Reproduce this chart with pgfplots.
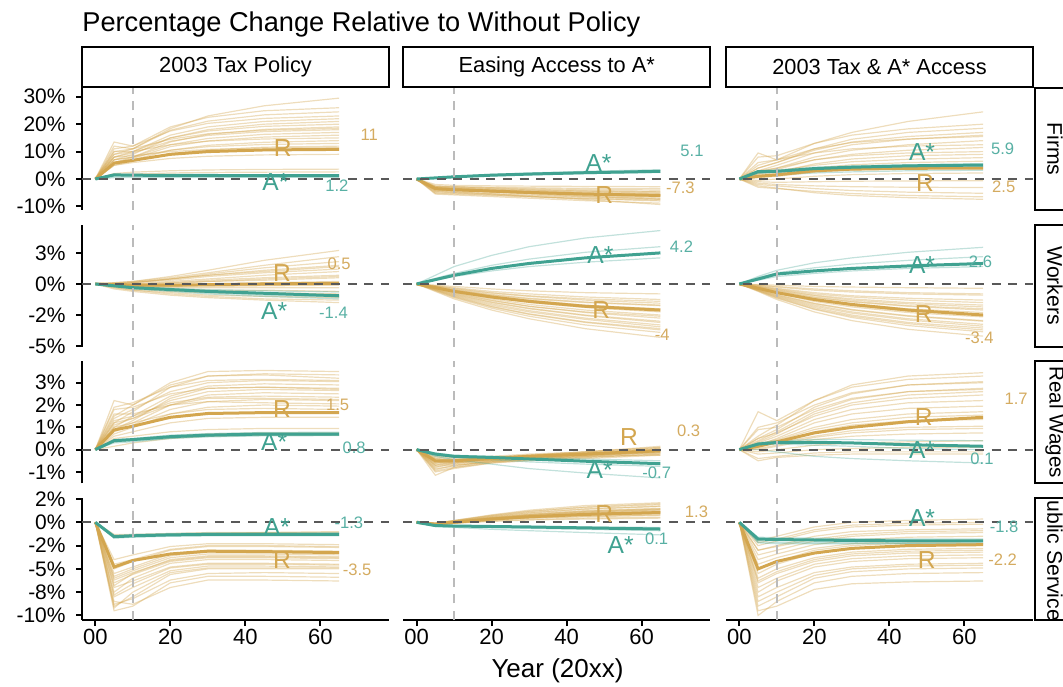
\documentclass[border=0pt]{standalone}
\usepackage{fontspec}
\setmainfont{Liberation Sans}
\usepackage{pgfplots}
\usepackage{pgfplotstable}
\pgfplotsset{compat=1.18}
\definecolor{cgold}{HTML}{D3A64F}
\definecolor{cteal}{HTML}{40A291}
\definecolor{goldtxt}{HTML}{D4AB60}
\definecolor{tealtxt}{HTML}{58B0A4}
\definecolor{zline}{HTML}{595959}
\definecolor{vlc}{HTML}{BBBBBB}
\newcommand\fs[1]{\fontsize{#1}{#1}\selectfont}

% ---------- data: one row per line, values at t = 0 5 10 20 30 45 65 ----------
\pgfplotstableread{
name a b c d e f g
t 0 5 10 20 30 45 65
g1 0 9 11 18.4 23 26.7 29.5
g2 0 10 11 17.8 21.1 23.4 24.5
g3 0 13.5 12 17.5 20.3 22.1 23
g4 0 8 10 16 19 21 22
g5 0 7 9 15 18 20 21
g6 0 9 10 15 17.5 19.2 20
g7 0 6 8 13.5 16.3 18.1 19
g8 0 8 9.5 13.8 15.9 17.3 18
g9 0 7 8 12.5 14.8 16.3 17
g10 0 6 7.5 11.8 13.9 15.3 16
g11 0 10 10 12.5 13.8 14.6 15
g12 0 5.5 7 10.5 12.3 13.4 14
g13 0 7 8 10.5 11.8 12.6 13
g14 0 5 6.5 9.3 10.6 11.6 12
g15 0 8 8.5 10 10.8 11.3 11.5
g16 0 5 6 7.5 8.3 8.8 9
g17 0 11 12 19 22.5 24.9 26
g18 0 2 2.5 3 3.3 3.5 3.6
g19 0 1.5 1.8 2.2 2.4 2.5 2.6
g20 0 12 11 14.5 16.5 17.8 18.5
c1 0 1.8 1.7 1.6 1.6 1.5 1.5
c2 0 1.0 1.0 0.9 0.9 0.9 0.9
c3 0 0.5 0.5 0.5 0.6 0.6 0.6
R 0 5.8 6.8 9.0 10.0 10.6 10.8
A 0 1.5 1.4 1.3 1.3 1.2 1.2
}\rawA
\pgfplotstableread{
name a b c d e f g
t 0 5 10 20 30 45 65
g1 0 -2.0 -2.3 -2.5 -2.6 -2.7 -2.8
g2 0 -2.5 -2.8 -3.2 -3.5 -3.8 -4.0
g3 0 -3.0 -3.3 -3.8 -4.2 -4.6 -5.0
g4 0 -3.5 -3.8 -4.3 -4.7 -5.2 -5.6
g5 0 -3.2 -3.5 -4.0 -4.4 -4.9 -5.3
g6 0 -4.0 -4.3 -4.8 -5.2 -5.7 -6.2
g7 0 -3.8 -4.1 -4.7 -5.3 -6.0 -6.6
g8 0 -4.5 -4.8 -5.3 -5.8 -6.4 -7.0
g9 0 -3.6 -4.0 -4.7 -5.4 -6.3 -7.3
g10 0 -5.0 -5.2 -5.8 -6.4 -7.2 -8.0
g11 0 -5.5 -5.8 -6.4 -7.0 -7.9 -8.8
g12 0 -4.2 -4.6 -5.4 -6.3 -7.5 -9.3
g13 0 -3.0 -3.2 -3.6 -4.0 -4.4 -4.7
g14 0 -3.4 -3.6 -4.1 -4.6 -5.1 -5.7
g15 0 -4.0 -4.2 -4.6 -5.0 -5.5 -5.9
g16 0 -2.8 -3.0 -3.4 -3.8 -4.2 -4.5
g17 0 -4.6 -5.0 -5.6 -6.1 -6.7 -7.4
g18 0 -3.3 -3.6 -4.2 -4.8 -5.5 -6.1
g19 0 -2.6 -2.8 -3.0 -3.2 -3.4 -3.5
g20 0 -5.2 -5.5 -6.0 -6.5 -7.1 -7.7
c1 0 0.5 1.0 1.7 2.2 2.8 3.4
c2 0 0.3 0.6 1.1 1.5 2.0 2.4
c3 0 0.4 0.9 1.5 2.0 2.5 3.0
R 0 -3.5 -3.9 -4.4 -4.9 -5.5 -6.0
A 0 0.4 0.8 1.4 1.8 2.3 2.8
}\rawB
\pgfplotstableread{
name a b c d e f g
t 0 5 10 20 30 45 65
g1 0 5 7 13 17 21 24.5
g2 0 4 6 10.5 13.5 15.5 17
g3 0 3 5 9.5 12.5 14.5 16
g4 0 6 7 11 13.3 14.6 15.5
g5 0 2.5 4 8 10.5 12.5 14
g6 0 9.5 7 9.5 11 12 12.5
g7 0 2 3.5 7 9 10.5 11.5
g8 0 3 4 7 8.5 9.5 10
g9 0 1.5 2.5 5.5 7.3 8.5 9
g10 0 2 3 5 6.3 7.2 7.8
g11 0 1 2 4 5.2 6 6.5
g12 0 0.5 1 2.5 3.3 3.8 4
g13 0 -0.5 0 1 1.6 2 2.2
g14 0 -1 -1.2 -1 -0.8 -0.7 -0.6
g15 0 -1.5 -2 -2.5 -2.8 -3 -3.1
g16 0 -2 -2.5 -3.5 -4.2 -4.8 -5.2
g17 0 -3 -3.5 -4.5 -5.3 -6 -6.5
g18 0 -2.5 -3.3 -5 -6 -6.8 -7.4
g19 0 8 8.5 13 16 18.3 20
g20 0 4 6 11 14.5 17 18.5
c1 0 2.0 2.5 3.3 3.8 4.2 4.5
c2 0 3.0 3.3 4.3 4.8 5.2 5.6
c3 0 1.2 1.5 2.2 2.6 3.0 3.2
R 0 1.0 1.5 3.0 3.6 3.9 4.0
A 0 2.7 2.8 3.8 4.3 4.8 5.1
}\rawC
\pgfplotstableread{
name a b c d e f g
t 0 5 10 20 30 45 65
g1 0 0.1 0.2 0.6 1.1 1.9 2.7
g2 0 0.1 0.2 0.5 0.9 1.5 2.2
g3 0 0 0.1 0.4 0.8 1.3 1.8
g4 0 0 0.1 0.4 0.7 1.1 1.5
g5 0 0 0.1 0.3 0.6 0.9 1.2
g6 0 0 0 0.2 0.4 0.7 1.0
g7 0 -0.1 -0.1 0.1 0.3 0.5 0.7
g8 0 -0.1 -0.1 0 0.2 0.3 0.5
g9 0 -0.1 -0.2 -0.1 0 0.1 0.2
g10 0 -0.1 -0.2 -0.2 -0.1 -0.1 0
g11 0 -0.2 -0.3 -0.3 -0.3 -0.3 -0.3
g12 0 -0.2 -0.3 -0.4 -0.5 -0.5 -0.6
g13 0 -0.2 -0.4 -0.6 -0.7 -0.8 -0.9
g14 0 -0.3 -0.5 -0.7 -0.9 -1.0 -1.1
g15 0 -0.3 -0.5 -0.8 -1.0 -1.2 -1.3
g16 0 -0.4 -0.6 -0.9 -1.1 -1.3 -1.5
g17 0 -0.2 -0.3 -0.5 -0.6 -0.7 -0.8
g18 0 0 0 0.1 0.2 0.4 0.6
g19 0 0.05 0.15 0.4 0.7 1.0 1.4
g20 0 -0.1 -0.15 -0.2 -0.2 -0.15 -0.1
c1 0 -0.2 -0.4 -0.6 -0.8 -1.0 -1.2
c2 0 -0.1 -0.2 -0.35 -0.45 -0.55 -0.65
c3 0 -0.15 -0.3 -0.5 -0.7 -0.9 -1.05
R 0 -0.05 -0.1 -0.1 -0.05 0 0.05
A 0 -0.15 -0.3 -0.45 -0.6 -0.75 -0.95
}\rawD
\pgfplotstableread{
name a b c d e f g
t 0 5 10 20 30 45 65
g1 0 -0.1 -0.2 -0.4 -0.55 -0.7 -0.8
g2 0 -0.15 -0.3 -0.6 -0.8 -1.05 -1.25
g3 0 -0.2 -0.4 -0.75 -1.0 -1.3 -1.55
g4 0 -0.25 -0.5 -0.9 -1.2 -1.5 -1.75
g5 0 -0.25 -0.5 -0.95 -1.3 -1.7 -2.0
g6 0 -0.3 -0.6 -1.1 -1.5 -1.9 -2.25
g7 0 -0.3 -0.65 -1.2 -1.65 -2.1 -2.5
g8 0 -0.35 -0.7 -1.3 -1.8 -2.3 -2.75
g9 0 -0.4 -0.8 -1.45 -1.95 -2.5 -3.0
g10 0 -0.45 -0.9 -1.6 -2.15 -2.75 -3.3
g11 0 -0.5 -1.0 -1.8 -2.4 -3.05 -3.6
g12 0 -0.55 -1.1 -1.95 -2.6 -3.3 -3.9
g13 0 -0.6 -1.2 -2.1 -2.8 -3.6 -4.3
g14 0 -0.2 -0.45 -0.85 -1.15 -1.45 -1.7
g15 0 -0.35 -0.75 -1.35 -1.8 -2.25 -2.6
g16 0 -0.3 -0.55 -1.0 -1.4 -1.8 -2.1
g17 0 -0.4 -0.85 -1.5 -2.0 -2.55 -3.1
g18 0 -0.15 -0.35 -0.7 -0.95 -1.2 -1.4
g19 0 -0.5 -1.05 -1.85 -2.45 -3.1 -3.7
g20 0 -0.45 -0.95 -1.7 -2.25 -2.85 -3.45
c1 0 0.7 1.4 2.3 3.0 3.7 4.3
c2 0 0.45 0.85 1.5 2.0 2.55 3.0
c3 0 0.3 0.6 1.05 1.4 1.75 2.1
R 0 -0.3 -0.6 -1.05 -1.4 -1.8 -2.1
A 0 0.35 0.7 1.25 1.65 2.1 2.5
}\rawE
\pgfplotstableread{
name a b c d e f g
t 0 5 10 20 30 45 65
g1 0 -0.05 -0.1 -0.2 -0.25 -0.3 -0.35
g2 0 -0.1 -0.25 -0.5 -0.65 -0.8 -0.9
g3 0 -0.15 -0.35 -0.7 -0.95 -1.15 -1.3
g4 0 -0.2 -0.45 -0.9 -1.2 -1.5 -1.7
g5 0 -0.25 -0.55 -1.05 -1.4 -1.75 -2.0
g6 0 -0.3 -0.65 -1.2 -1.6 -2.0 -2.3
g7 0 -0.35 -0.75 -1.4 -1.85 -2.3 -2.65
g8 0 -0.4 -0.85 -1.55 -2.05 -2.55 -2.95
g9 0 -0.45 -0.95 -1.7 -2.25 -2.8 -3.25
g10 0 -0.5 -1.05 -1.9 -2.5 -3.1 -3.55
g11 0 -0.55 -1.15 -2.05 -2.7 -3.35 -3.85
g12 0 -0.6 -1.25 -2.25 -2.95 -3.65 -4.2
g13 0 -0.2 -0.4 -0.8 -1.05 -1.3 -1.5
g14 0 -0.3 -0.6 -1.1 -1.45 -1.8 -2.1
g15 0 -0.35 -0.7 -1.3 -1.75 -2.2 -2.5
g16 0 -0.45 -0.9 -1.6 -2.1 -2.6 -3.0
g17 0 -0.1 -0.2 -0.4 -0.55 -0.7 -0.8
g18 0 -0.5 -1.0 -1.8 -2.35 -2.9 -3.4
g19 0 -0.25 -0.5 -0.95 -1.3 -1.6 -1.85
g20 0 -0.55 -1.1 -2.0 -2.6 -3.2 -3.7
c1 0 0.6 1.1 1.7 2.1 2.55 2.95
c2 0 0.3 0.6 0.85 1.05 1.25 1.4
c3 0 0.5 0.9 1.3 1.6 1.9 2.2
R 0 -0.35 -0.7 -1.25 -1.65 -2.1 -2.5
A 0 0.4 0.8 1.05 1.25 1.45 1.65
}\rawF
\pgfplotstableread{
name a b c d e f g
t 0 5 10 20 30 45 65
g1 0 1.5 2.0 3.0 3.5 3.55 3.5
g2 0 2.2 2.0 2.9 3.3 3.4 3.35
g3 0 1.2 1.7 2.8 3.3 3.35 3.2
g4 0 1.4 1.8 2.6 3.0 3.1 3.05
g5 0 1.0 1.5 2.4 2.85 2.95 2.9
g6 0 1.8 1.9 2.5 2.75 2.8 2.75
g7 0 1.1 1.4 2.2 2.6 2.7 2.65
g8 0 0.9 1.2 2.0 2.45 2.55 2.5
g9 0 1.3 1.5 2.1 2.35 2.4 2.35
g10 0 0.8 1.1 1.8 2.15 2.25 2.2
g11 0 1.6 1.6 2.0 2.15 2.1 2.05
g12 0 0.7 1.0 1.6 1.9 2.0 1.95
g13 0 1.0 1.2 1.6 1.8 1.85 1.8
g14 0 0.6 0.8 1.2 1.4 1.45 1.45
g15 0 0.5 0.6 0.8 0.9 0.95 0.95
g16 0 0.35 0.45 0.6 0.7 0.75 0.75
g17 0 0.15 0.3 0.5 0.6 0.65 0.65
g18 0 1.9 2.1 2.8 3.1 3.15 3.1
g19 0 0.9 1.3 2.3 2.75 2.8 2.7
g20 0 1.2 1.4 2.0 2.3 2.3 2.25
c1 0 0.45 0.5 0.65 0.72 0.77 0.78
c2 0 0.35 0.4 0.52 0.6 0.64 0.65
c3 0 0.3 0.35 0.5 0.57 0.62 0.63
R 0 0.88 1.05 1.45 1.62 1.66 1.66
A 0 0.4 0.45 0.58 0.65 0.7 0.7
}\rawG
\pgfplotstableread{
name a b c d e f g
t 0 5 10 20 30 45 65
g1 0 -0.3 -0.35 -0.3 -0.2 -0.1 0.1
g2 0 -0.5 -0.5 -0.4 -0.3 -0.15 0.05
g3 0 -0.8 -0.6 -0.45 -0.35 -0.2 0
g4 0 -1.15 -0.8 -0.55 -0.4 -0.25 -0.05
g5 0 -0.6 -0.55 -0.45 -0.35 -0.25 -0.1
g6 0 -0.4 -0.45 -0.4 -0.35 -0.25 -0.15
g7 0 -0.9 -0.7 -0.55 -0.45 -0.35 -0.2
g8 0 -0.7 -0.65 -0.5 -0.4 -0.3 -0.1
g9 0 -1.0 -0.85 -0.6 -0.45 -0.3 -0.15
g10 0 -0.35 -0.4 -0.35 -0.25 -0.1 0.15
g11 0 -0.55 -0.6 -0.5 -0.4 -0.3 -0.25
g12 0 -0.45 -0.45 -0.35 -0.25 -0.15 0
g13 0 -0.65 -0.6 -0.45 -0.3 -0.15 0.05
g14 0 -0.75 -0.7 -0.55 -0.45 -0.35 -0.2
g15 0 -0.5 -0.5 -0.4 -0.3 -0.2 -0.05
g16 0 -0.85 -0.75 -0.5 -0.35 -0.2 0
g17 0 -0.6 -0.5 -0.35 -0.25 -0.1 0.1
g18 0 -0.95 -0.8 -0.6 -0.5 -0.4 -0.25
g19 0 -0.4 -0.5 -0.45 -0.35 -0.25 -0.1
g20 0 -0.7 -0.55 -0.4 -0.3 -0.2 -0.05
c1 0 -0.3 -0.45 -0.65 -0.85 -1.05 -1.27
c2 0 -0.15 -0.25 -0.3 -0.35 -0.42 -0.5
c3 0 -0.25 -0.35 -0.45 -0.55 -0.65 -0.75
R 0 -0.5 -0.5 -0.4 -0.3 -0.2 -0.05
A 0 -0.2 -0.3 -0.35 -0.42 -0.52 -0.63
}\rawH
\pgfplotstableread{
name a b c d e f g
t 0 5 10 20 30 45 65
g1 0 0.6 1.1 2.2 2.9 3.3 3.45
g2 0 1.7 1.3 2.2 2.8 3.15 3.3
g3 0 0.5 0.9 1.9 2.5 2.9 3.05
g4 0 0.4 0.8 1.7 2.25 2.6 2.75
g5 0 0.5 0.75 1.5 2.0 2.3 2.45
g6 0 0.3 0.6 1.35 1.8 2.1 2.2
g7 0 0.2 0.5 1.2 1.6 1.85 1.95
g8 0 0.25 0.45 1.0 1.35 1.6 1.7
g9 0 0.1 0.3 0.8 1.1 1.3 1.35
g10 0 0.15 0.3 0.6 0.85 1.0 1.05
g11 0 0 0.15 0.45 0.6 0.7 0.75
g12 0 -0.1 0 0.2 0.3 0.35 0.4
g13 0 -0.2 -0.15 0 0.05 0.1 0.1
g14 0 -0.4 -0.3 -0.15 -0.1 -0.1 -0.1
g15 0 -0.5 -0.35 -0.25 -0.2 -0.2 -0.2
g16 0 0.9 1.0 1.8 2.3 2.6 2.7
g17 0 0.35 0.7 1.6 2.1 2.45 2.6
g18 0 0.2 0.4 0.9 1.2 1.45 1.55
g19 0 0.05 0.2 0.55 0.75 0.9 0.95
g20 0 1.0 1.2 2.0 2.55 2.9 3.0
c1 0 0.3 0.4 0.45 0.45 0.42 0.4
c2 0 0 -0.1 -0.3 -0.4 -0.5 -0.6
c3 0 0.2 0.25 0.2 0.15 0.05 0
R 0 0.15 0.35 0.75 1.0 1.25 1.45
A 0 0.25 0.32 0.33 0.3 0.22 0.15
}\rawI
\pgfplotstableread{
name a b c d e f g
t 0 5 10 20 30 45 65
g1 0 -4.0 -3.5 -2.6 -2.3 -2.3 -2.4
g2 0 -5.0 -4.2 -3.0 -2.6 -2.6 -2.7
g3 0 -5.5 -4.8 -3.4 -3.0 -3.0 -3.1
g4 0 -6.0 -5.2 -3.8 -3.4 -3.4 -3.5
g5 0 -6.5 -5.6 -4.2 -3.8 -3.8 -3.9
g6 0 -7.5 -6.0 -4.4 -4.0 -4.0 -4.1
g7 0 -7.0 -6.3 -4.8 -4.4 -4.4 -4.5
g8 0 -8.0 -7.0 -5.2 -4.7 -4.7 -4.8
g9 0 -9.0 -8.0 -5.6 -5.0 -5.0 -5.0
g10 0 -9.5 -9.0 -6.5 -5.8 -5.8 -5.9
g11 0 -8.5 -8.8 -7.0 -6.2 -6.2 -6.3
g12 0 -6.8 -5.5 -4.0 -3.6 -3.6 -3.7
g13 0 -5.8 -5.0 -3.6 -3.2 -3.2 -3.3
g14 0 -7.8 -6.6 -4.9 -4.5 -4.5 -4.6
g15 0 -9.2 -7.5 -5.4 -4.9 -4.9 -4.9
g16 0 -8.8 -8.2 -6.2 -5.5 -5.4 -5.5
g17 0 -1.6 -1.5 -1.3 -1.2 -1.1 -1.0
g18 0 -1.3 -1.3 -1.2 -1.1 -1.1 -1.1
g19 0 -4.5 -4.0 -2.9 -2.5 -2.5 -2.6
g20 0 -6.2 -5.4 -4.1 -3.7 -3.7 -3.8
c1 0 -1.4 -1.3 -1.2 -1.15 -1.15 -1.15
c2 0 -1.7 -1.6 -1.5 -1.45 -1.45 -1.45
c3 0 -1.5 -1.4 -1.3 -1.25 -1.2 -1.2
R 0 -4.8 -4.1 -3.4 -3.1 -3.15 -3.25
A 0 -1.55 -1.45 -1.35 -1.3 -1.3 -1.3
}\rawJ
\pgfplotstableread{
name a b c d e f g
t 0 5 10 20 30 45 65
g1 0 -0.1 0.2 0.8 1.3 1.8 2.1
g2 0 -0.1 0.15 0.7 1.15 1.6 1.9
g3 0 -0.15 0.1 0.6 1.0 1.4 1.7
g4 0 -0.15 0.1 0.55 0.9 1.25 1.5
g5 0 -0.2 0.05 0.45 0.8 1.1 1.35
g6 0 -0.2 0 0.4 0.7 1.0 1.2
g7 0 -0.2 0 0.35 0.6 0.85 1.05
g8 0 -0.25 -0.05 0.3 0.5 0.75 0.9
g9 0 -0.25 -0.05 0.25 0.45 0.6 0.75
g10 0 -0.3 -0.1 0.15 0.3 0.45 0.55
g11 0 -0.3 -0.1 0.1 0.25 0.35 0.45
g12 0 -0.1 0.2 0.75 1.2 1.65 2.0
g13 0 -0.15 0.1 0.5 0.85 1.2 1.45
g14 0 -0.2 0.05 0.45 0.75 1.05 1.3
g15 0 -0.2 0 0.35 0.65 0.9 1.1
g16 0 -0.25 0 0.3 0.55 0.8 1.0
g17 0 -0.1 0.15 0.65 1.05 1.45 1.75
g18 0 -0.15 0.1 0.5 0.8 1.15 1.4
g19 0 -0.2 0 0.4 0.7 0.95 1.15
g20 0 -0.25 -0.05 0.25 0.45 0.65 0.8
c1 0 -0.45 -0.55 -0.75 -0.9 -1.1 -1.35
c2 0 -0.3 -0.35 -0.4 -0.45 -0.5 -0.55
c3 0 -0.35 -0.45 -0.55 -0.65 -0.75 -0.9
R 0 -0.2 0.0 0.35 0.6 0.85 1.05
A 0 -0.35 -0.4 -0.45 -0.5 -0.6 -0.72
}\rawK
\pgfplotstableread{
name a b c d e f g
t 0 5 10 20 30 45 65
g1 0 -2.0 -1.5 -0.5 0 0.2 0.35
g2 0 -2.5 -2.0 -1.0 -0.5 -0.3 -0.2
g3 0 -3.0 -2.5 -1.5 -1.0 -0.8 -0.7
g4 0 -3.5 -3.0 -2.0 -1.5 -1.2 -1.1
g5 0 -4.0 -3.4 -2.4 -1.9 -1.6 -1.5
g6 0 -4.5 -3.8 -2.8 -2.3 -2.0 -1.9
g7 0 -5.5 -4.5 -3.3 -2.8 -2.5 -2.4
g8 0 -6.0 -5.0 -3.8 -3.2 -2.9 -2.8
g9 0 -6.5 -5.5 -4.2 -3.6 -3.3 -3.2
g10 0 -7.5 -6.3 -4.8 -4.2 -3.9 -3.8
g11 0 -8.0 -7.0 -5.4 -4.8 -4.5 -4.4
g12 0 -9.0 -8.0 -6.0 -5.3 -5.0 -4.9
g13 0 -10.0 -8.5 -6.5 -5.8 -5.5 -5.4
g14 0 -9.5 -9.0 -7.2 -6.6 -6.4 -6.3
g15 0 -8.5 -7.5 -5.7 -5.0 -4.7 -4.6
g16 0 -3.0 -2.6 -1.8 -1.3 -1.0 -0.9
g17 0 -5.0 -4.2 -3.0 -2.5 -2.2 -2.1
g18 0 -7.0 -6.0 -4.5 -3.9 -3.6 -3.5
g19 0 -2.2 -1.8 -0.8 -0.3 -0.1 0
g20 0 -6.3 -5.3 -4.0 -3.4 -3.1 -3.0
c1 0 -2.2 -2.3 -2.3 -2.3 -2.3 -2.3
c2 0 -1.6 -1.65 -1.7 -1.75 -1.8 -1.8
c3 0 -2.1 -2.15 -2.2 -2.2 -2.25 -2.25
R 0 -5.0 -4.2 -3.3 -2.8 -2.5 -2.4
A 0 -1.8 -1.85 -1.9 -1.95 -2.0 -2.0
}\rawL
\pgfplotstabletranspose[colnames from=name]{\TA}{\rawA}
\pgfplotstabletranspose[colnames from=name]{\TB}{\rawB}
\pgfplotstabletranspose[colnames from=name]{\TC}{\rawC}
\pgfplotstabletranspose[colnames from=name]{\TD}{\rawD}
\pgfplotstabletranspose[colnames from=name]{\TE}{\rawE}
\pgfplotstabletranspose[colnames from=name]{\TF}{\rawF}
\pgfplotstabletranspose[colnames from=name]{\TG}{\rawG}
\pgfplotstabletranspose[colnames from=name]{\TH}{\rawH}
\pgfplotstabletranspose[colnames from=name]{\TI}{\rawI}
\pgfplotstabletranspose[colnames from=name]{\TJ}{\rawJ}
\pgfplotstabletranspose[colnames from=name]{\TK}{\rawK}
\pgfplotstabletranspose[colnames from=name]{\TL}{\rawL}

\pgfplotsset{
 panel/.style={scale only axis, width=153.5pt, height=61pt, anchor=south west,
  xmin=-3.55, xmax=78.3, clip=false,
  axis x line=bottom, axis y line=left,
  axis line style={-, line width=1pt, black},
  tick style={line width=1pt, black},
  tick align=outside, major tick length=3pt,
  xtick={0,20,40,60}, xticklabels={00,20,40,60},
  xticklabel style={font=\fs{11}, inner sep=1.5pt},
  yticklabel style={font=\fs{10.5}, inner sep=1.5pt, xshift=-3.5pt},
 },
 nox/.style={xtick=\empty, x axis line style={draw=none}},
 noy/.style={ytick=\empty, y axis line style={draw=none}},
 r1/.style={ymin=-11.3, ymax=33.2, ytick={-10,0,10,20,30}, yticklabels={-10\%,0\%,10\%,20\%,30\%}},
 r2/.style={ymin=-5.05, ymax=4.77, ytick={-5,-2.5,0,2.5}, yticklabels={-5\%,-2\%,0\%,3\%}},
 r3/.style={ymin=-1.51, ymax=3.96, ytick={-1,0,1,2,3}, yticklabels={-1\%,0\%,1\%,2\%,3\%}},
 r4/.style={ymin=-10.49, ymax=2.61, ytick={-10,-7.5,-5,-2.5,0,2.5}, yticklabels={-10\%,-8\%,-5\%,-2\%,0\%,2\%}},
 gl/.style={cgold, opacity=0.38, line width=0.6pt},
 tl/.style={cteal, opacity=0.32, line width=0.6pt},
 Rl/.style={cgold, line width=1.5pt},
 Al/.style={cteal, line width=1.5pt},
}
\tikzset{
 vdash/.style={vlc, line width=0.9pt, dash pattern=on 4.5pt off 3.8pt},
 hdash/.style={zline, line width=1.05pt, dash pattern=on 4.5pt off 3.8pt},
 lg/.style={text=cgold, font=\fs{12.3}, inner sep=0pt},
 la/.style={text=cteal, font=\fs{12.3}, inner sep=0pt},
 ng/.style={text=goldtxt, font=\fs{8.3}, inner sep=0pt},
 na/.style={text=tealtxt, font=\fs{8.3}, inner sep=0pt},
}
\newcommand\drawpanel[1]{%
 \pgfplotsinvokeforeach{1,...,20}{\addplot[gl] table[x=t,y=g##1]{#1};}%
 \pgfplotsinvokeforeach{1,2,3}{\addplot[tl] table[x=t,y=c##1]{#1};}%
 \addplot[Rl] table[x=t,y=R]{#1};%
 \addplot[Al] table[x=t,y=A]{#1};%
 \draw[vdash] (axis cs:10,\pgfkeysvalueof{/pgfplots/ymin}) -- (axis cs:10,\pgfkeysvalueof{/pgfplots/ymax});%
 \draw[hdash] (axis cs:-3.55,0) -- (axis cs:78.3,0);%
}

\begin{document}
\begin{tikzpicture}
\path[use as bounding box] (0,0) rectangle (531.5pt,343pt);
\clip (0,0) rectangle (531.5pt,343pt);

% ---- row 1: Firms ----
\begin{axis}[panel, r1, nox, at={(41pt,238pt)}]
\drawpanel{\TA}
\node[lg] at (axis cs:50,11.2) {R};
\node[la] at (axis cs:48,-1) {A*};
\node[ng] at (axis cs:73,16) {11};
\node[na] at (axis cs:64.4,-2.4) {1.2};
\end{axis}
\begin{axis}[panel, r1, nox, noy, at={(201.65pt,238pt)}]
\drawpanel{\TB}
\node[la] at (axis cs:48.5,5.7) {A*};
\node[na] at (axis cs:73.4,10.2) {5.1};
\node[lg] at (axis cs:50,-5.8) {R};
\node[ng] at (axis cs:70.3,-3.2) {-7.3};
\end{axis}
\begin{axis}[panel, r1, nox, noy, at={(363pt,238pt)}]
\drawpanel{\TC}
\node[la] at (axis cs:48.7,9.9) {A*};
\node[lg] at (axis cs:49.5,-1.6) {R};
\node[na] at (axis cs:70.2,10.9) {5.9};
\node[ng] at (axis cs:70.5,-3) {2.5};
\end{axis}

% ---- row 2: Workers ----
\begin{axis}[panel, r2, nox, at={(41pt,169.65pt)}]
\drawpanel{\TD}
\node[lg] at (axis cs:49.8,0.9) {R};
\node[ng] at (axis cs:65,1.6) {0.5};
\node[la] at (axis cs:47.7,-2.2) {A*};
\node[na] at (axis cs:63.5,-2.3) {-1.4};
\end{axis}
\begin{axis}[panel, r2, nox, noy, at={(201.65pt,169.65pt)}]
\drawpanel{\TE}
\node[la] at (axis cs:49,2.3) {A*};
\node[na] at (axis cs:70.6,3.0) {4.2};
\node[lg] at (axis cs:49.2,-2.1) {R};
\node[ng] at (axis cs:65.5,-4.1) {-4};
\end{axis}
\begin{axis}[panel, r2, nox, noy, at={(363pt,169.65pt)}]
\drawpanel{\TF}
\node[la] at (axis cs:48.7,1.5) {A*};
\node[na] at (axis cs:64.3,1.8) {2.6};
\node[lg] at (axis cs:49.2,-2.4) {R};
\node[ng] at (axis cs:64,-4.3) {-3.4};
\end{axis}

% ---- row 3: Real Wages ----
\begin{axis}[panel, r3, nox, at={(41pt,101.35pt)}]
\drawpanel{\TG}
\node[lg] at (axis cs:49.8,1.8) {R};
\node[ng] at (axis cs:64.6,2.0) {1.5};
\node[la] at (axis cs:47.7,0.33) {A*};
\node[na] at (axis cs:69,0.1) {0.8};
\end{axis}
\begin{axis}[panel, r3, nox, noy, at={(201.65pt,101.35pt)}]
\drawpanel{\TH}
\node[lg] at (axis cs:56.6,0.57) {R};
\node[ng] at (axis cs:72.5,0.84) {0.3};
\node[la] at (axis cs:48.8,-0.93) {A*};
\node[na] at (axis cs:64,-1.03) {-0.7};
\end{axis}
\begin{axis}[panel, r3, nox, noy, at={(363pt,101.35pt)}]
\drawpanel{\TI}
\node[lg] at (axis cs:49.2,1.48) {R};
\node[la] at (axis cs:48.7,0) {A*};
\node[ng] at (axis cs:73.8,2.27) {1.7};
\node[na] at (axis cs:64.7,-0.39) {0.1};
\end{axis}

% ---- row 4: Public Services ----
\begin{axis}[panel, r4, at={(41pt,33pt)}]
\drawpanel{\TJ}
\node[la] at (axis cs:48.4,-0.47) {A*};
\node[na] at (axis cs:67.6,0) {-1.3};
\node[lg] at (axis cs:49.8,-4.05) {R};
\node[ng] at (axis cs:69.8,-5.1) {-3.5};
\end{axis}
\begin{axis}[panel, r4, noy, at={(201.65pt,33pt)}]
\drawpanel{\TK}
\node[lg] at (axis cs:50,0.86) {R};
\node[ng] at (axis cs:74.6,1.14) {1.3};
\node[la] at (axis cs:54.4,-2.44) {A*};
\node[na] at (axis cs:64,-1.72) {0.1};
\end{axis}
\begin{axis}[panel, r4, noy, at={(363pt,33pt)}]
\drawpanel{\TL}
\node[la] at (axis cs:48.7,0.43) {A*};
\node[na] at (axis cs:70.6,-0.47) {-1.8};
\node[lg] at (axis cs:50,-4.05) {R};
\node[ng] at (axis cs:70.2,-3.98) {-2.2};
\end{axis}

% ---- top strips ----
\draw[line width=1pt, fill=white] (41pt,299.5pt) rectangle (194.5pt,319.5pt);
\node[font=\fs{10.9}] at (117.75pt,309.5pt) {2003 Tax Policy};
\draw[line width=1pt, fill=white] (201.65pt,299.5pt) rectangle (355.15pt,319.5pt);
\node[font=\fs{10.9}] at (278.4pt,309.5pt) {Easing Access to A*};
\draw[line width=1pt, fill=white] (363pt,299.5pt) rectangle (516.5pt,319.5pt);
\node[font=\fs{10.9}] at (439.75pt,309.5pt) {2003 Tax \& A* Access};

% ---- right strips (text clipped to the strip, as in the reference) ----
\draw[line width=1pt, fill=white] (517.5pt,238pt) rectangle (540pt,299pt);
\begin{scope}\clip (517.5pt,238pt) rectangle (540pt,299pt);
\node[font=\fs{10.6}, rotate=-90] at (527.5pt,268.5pt) {Firms};\end{scope}
\draw[line width=1pt, fill=white] (517.5pt,169.65pt) rectangle (540pt,230.65pt);
\begin{scope}\clip (517.5pt,169.65pt) rectangle (540pt,230.65pt);
\node[font=\fs{10.6}, rotate=-90] at (527.5pt,200.15pt) {Workers};\end{scope}
\draw[line width=1pt, fill=white] (517.5pt,101.35pt) rectangle (540pt,162.35pt);
\begin{scope}\clip (517.5pt,101.35pt) rectangle (540pt,162.35pt);
\node[font=\fs{10.3}, rotate=-90] at (527.5pt,131.85pt) {Real Wages};\end{scope}
\draw[line width=1pt, fill=white] (517.5pt,33pt) rectangle (540pt,94pt);
\begin{scope}\clip (517.5pt,33pt) rectangle (540pt,94pt);
\node[font=\fs{10.6}, rotate=-90] at (527.5pt,63.5pt) {Public Services};\end{scope}

% ---- titles ----
\node[anchor=base west, font=\fs{13.6}, inner sep=0pt] at (41pt,327.25pt) {Percentage Change Relative to Without Policy};
\node[anchor=base, font=\fs{13}, inner sep=0pt] at (278.75pt,4.5pt) {Year (20xx)};
\end{tikzpicture}
\end{document}
